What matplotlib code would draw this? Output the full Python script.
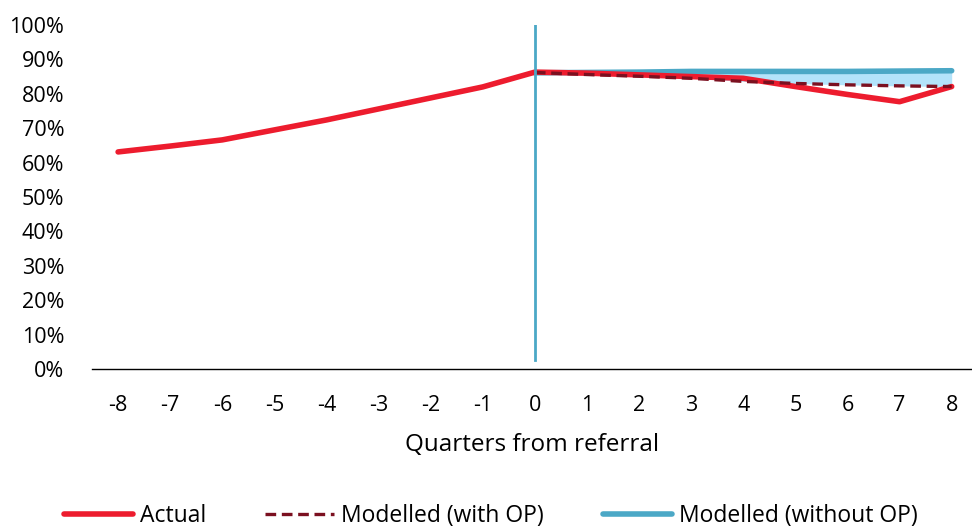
import matplotlib
matplotlib.use("Agg")
import matplotlib.pyplot as plt
from matplotlib.ticker import PercentFormatter

quarters = list(range(-8, 9))
actual = [63.1, 64.8, 66.6, 69.5, 72.4, 75.6, 78.8, 82.0, 86.3,
          86.0, 85.5, 85.0, 84.5, 82.1, 79.8, 77.7, 82.1]
model_q = list(range(0, 9))
modelled_with_op = [86.2, 85.6, 85.1, 84.5, 83.6, 83.0, 82.6, 82.3, 82.1]
modelled_without_op = [86.1, 86.2, 86.3, 86.5, 86.5, 86.5, 86.5, 86.6, 86.7]

yticks = list(range(0, 101, 10))

plt.rcParams['font.family'] = ['Open Sans', 'DejaVu Sans']
plt.rcParams['axes.unicode_minus'] = False

RED = '#ED1C2E'
DARK_RED = '#7B1020'
BLUE = '#4BA8C6'
FILL = '#B3E3FA'

fig = plt.figure(figsize=(9.72, 5.27), dpi=100)
ax = fig.add_axes([0.0947, 0.2998, 0.9053, 0.6528])

ax.fill_between(model_q, modelled_with_op, modelled_without_op,
                color=FILL, lw=0, zorder=1)
ax.plot(quarters, actual, color=RED, lw=4, solid_capstyle='round',
        solid_joinstyle='round', zorder=3, label='Actual')
ax.plot(model_q, modelled_with_op, color=DARK_RED, lw=2.4, ls=(0, (3.2, 1.7)),
        zorder=4, label='Modelled (with OP)')
ax.plot(model_q, modelled_without_op, color=BLUE, lw=4,
        solid_capstyle='round', zorder=2, label='Modelled (without OP)')
ax.plot([0, 0], [2.5, 100], color=BLUE, lw=2, zorder=5)

ax.set_xlim(-8.5, 8.39)
ax.set_ylim(0, 100)
ax.set_yticks(yticks)
ax.yaxis.set_major_formatter(PercentFormatter(decimals=0))
ax.set_xticks(quarters)
ax.tick_params(axis='both', length=0, labelsize=15.5, colors='black')
ax.tick_params(axis='x', pad=19)
ax.tick_params(axis='y', pad=20)
for s in ['top', 'right', 'left']:
    ax.spines[s].set_visible(False)
ax.spines['bottom'].set_color('black')
ax.spines['bottom'].set_linewidth(1)

ax.set_xlabel('Quarters from referral', fontsize=17.5, labelpad=12)

leg = fig.legend(loc='center', bbox_to_anchor=(0.505, 0.02), ncol=3,
                 frameon=False, fontsize=16.5, handlelength=3.0,
                 handletextpad=0.3, columnspacing=2.6)

fig.savefig('out.png', dpi=100)
